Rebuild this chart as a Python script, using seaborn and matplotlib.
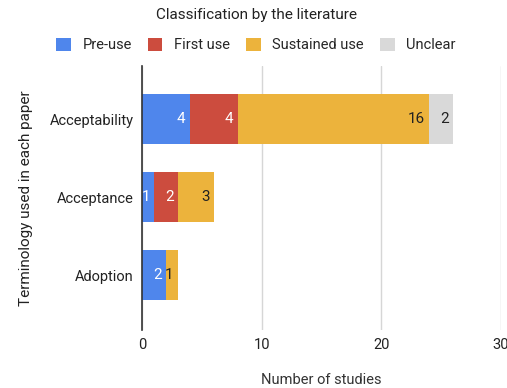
import matplotlib
matplotlib.use("Agg")
import matplotlib.pyplot as plt
from matplotlib.patches import Patch
import numpy as np
import pandas as pd
import seaborn as sns

# Studies per terminology, split by the stage of use they classify
terms = ["Acceptability", "Acceptance", "Adoption"]
stages = ["Pre-use", "First use", "Sustained use", "Unclear"]
pre_use = [4, 1, 2]
first_use = [4, 2, 0]
sustained_use = [16, 3, 1]
unclear = [2, 0, 0]

colors = ["#4f86ec", "#cc4c3e", "#ecb33c", "#d9d9d9"]
label_colors = ["white", "white", "#222222", "#222222"]

sns.set_theme(style="white")
plt.rcParams["font.family"] = ["Roboto", "DejaVu Sans"]

fig = plt.figure(figsize=(5.07, 3.88), dpi=100)
ax = fig.add_axes([142 / 507, 1 - 330 / 388, (501 - 142) / 507, (330 - 66) / 388])

series = [pre_use, first_use, sustained_use, unclear]
cum = np.cumsum(np.array(series), axis=0)

# Stacked bars: draw cumulative totals from the outermost segment inward
for i in range(len(stages) - 1, -1, -1):
    df = pd.DataFrame({"term": terms, "value": cum[i]})
    sns.barplot(data=df, x="value", y="term", color=colors[i], orient="h",
                width=0.64, ax=ax, linewidth=0, saturation=1)

# Segment value labels, right-aligned inside each segment
for i in range(len(stages)):
    for j, term in enumerate(terms):
        v = series[i][j]
        if v == 0:
            continue
        ax.text(cum[i][j] - 0.35, j, str(v), ha="right", va="center",
                fontsize=11, color=label_colors[i])

ax.set_xlim(0, 30)
ax.set_ylim(2.7, -0.68)
ax.set_xticks([0, 10, 20, 30])
ax.xaxis.grid(True, color="#d6d6d6", linewidth=1)
ax.set_axisbelow(True)
for s in ["top", "right", "bottom"]:
    ax.spines[s].set_visible(False)
ax.spines["left"].set_color("#333333")
ax.spines["left"].set_linewidth(1.2)
ax.tick_params(axis="x", length=4, color="#d6d6d6", labelsize=10.5, labelcolor="#222222", pad=2)
ax.tick_params(axis="y", length=0, labelsize=10.5, labelcolor="#222222", pad=6)
ax.set_xlabel("Number of studies", fontsize=10.5, color="#333333", labelpad=15)
ax.set_ylabel("Terminology used in each paper", fontsize=11, color="#222222", labelpad=12)

fig.text(257 / 507, 1 - 15 / 388, "Classification by the literature",
         ha="center", va="center", fontsize=11, color="#222222")

handles = [Patch(facecolor=c, edgecolor="none") for c in colors]
fig.legend(handles, stages, loc="center", bbox_to_anchor=(256 / 507, 1 - 45 / 388),
           ncol=4, frameon=False, fontsize=10.5, handlelength=1.0, handleheight=1.0,
           handletextpad=0.8, columnspacing=1.1, borderaxespad=0)

fig.savefig("out.png", dpi=100)
